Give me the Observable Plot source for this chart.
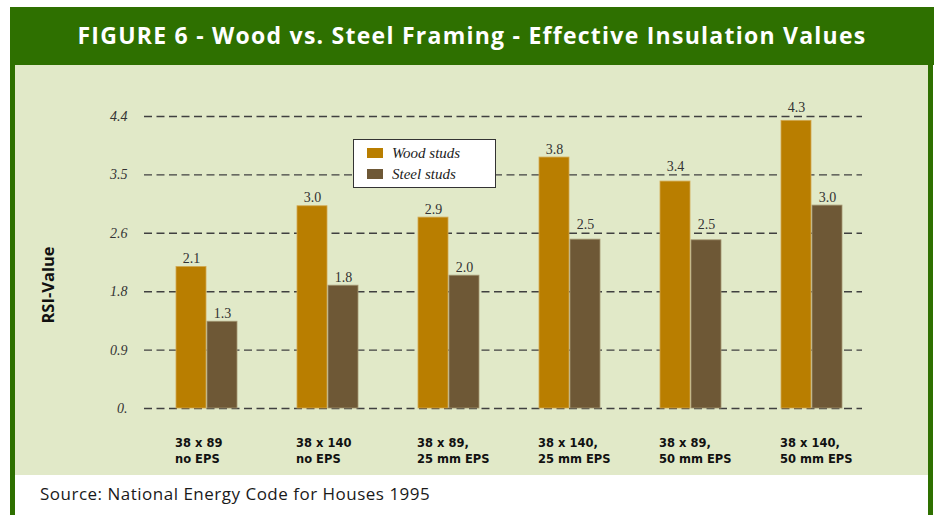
<!DOCTYPE html>
<html>
<head>
<meta charset="utf-8">
<script src="https://cdn.jsdelivr.net/npm/d3@7"></script>
<script src="https://cdn.jsdelivr.net/npm/@observablehq/plot@0.6"></script>
<style>
  html, body { margin: 0; padding: 0; background: #fff; }
  #page { position: relative; width: 938px; height: 515px; background: #fff; overflow: hidden; }
  #header { position: absolute; left: 10px; top: 7px; width: 924px; height: 55px; padding-bottom: 3px; background: #2e7000;
    color: #fff; font: 700 23px "Open Sans", sans-serif; letter-spacing: 1.25px;
    display: flex; align-items: center; justify-content: center; }
  .strip { position: absolute; top: 65px; height: 450px; background: #2e7000; }
  #panel { position: absolute; left: 15px; top: 65px; width: 913px; height: 410px; background: #e1e9c8; }
  #chart { position: absolute; left: 0; top: 65px; }
  #ylabel { position: absolute; left: 47px; top: 285px; transform: translate(-50%, -50%) rotate(-90deg);
    font: 700 16.5px "Open Sans", sans-serif; color: #111; white-space: nowrap; }
  #legend { position: absolute; left: 353px; top: 139px; width: 141px; height: 47px; background: #fff;
    border: 1.5px solid #333; box-sizing: content-box; }
  .item { position: absolute; left: 13px; font: italic 15px "Liberation Serif", serif; color: #222;
    display: flex; align-items: center; height: 16px; }
  .sw { width: 16px; height: 10px; margin-right: 9px; }
  #source { position: absolute; left: 40px; top: 482px; font: 17px "Open Sans", sans-serif; letter-spacing: 0.5px; color: #1a1a1a; }
</style>
</head>
<body>
<div id="page">
  <div id="header"></div>
  <div class="strip" style="left:10px;width:5px"></div>
  <div class="strip" style="left:928px;width:5px"></div>
  <div id="panel"></div>
  <div id="chart"></div>
  <div id="ylabel"></div>
  <div id="legend"></div>
  <div id="source"></div>
</div>
<script>
const title = "FIGURE 6 - Wood vs. Steel Framing - Effective Insulation Values";
const source = "Source: National Energy Code for Houses 1995";
const yLabel = "RSI-Value";
const categories = ["38 x 89\nno EPS", "38 x 140\nno EPS", "38 x 89,\n25 mm EPS", "38 x 140,\n25 mm EPS", "38 x 89,\n50 mm EPS", "38 x 140,\n50 mm EPS"];
const seriesNames = ["Wood studs", "Steel studs"];
const seriesColors = ["#b97e00", "#6e5836"];
const woodValues = [2.12, 3.03, 2.86, 3.76, 3.40, 4.31];
const steelValues = [1.30, 1.84, 1.99, 2.53, 2.52, 3.04];
const woodLabels = ["2.1", "3.0", "2.9", "3.8", "3.4", "4.3"];
const steelLabels = ["1.3", "1.8", "2.0", "2.5", "2.5", "3.0"];
const yTicks = [0, 0.875, 1.75, 2.625, 3.5, 4.375];
const yTickLabels = ["0.", "0.9", "1.8", "2.6", "3.5", "4.4"];

document.getElementById("header").textContent = title;
document.getElementById("source").textContent = source;
document.getElementById("ylabel").textContent = yLabel;

// a value label that would sit on a dashed gridline is lifted above that gridline
const labelAnchor = v => yTicks.find(t => t > v && t - v < 0.2) ?? v;
const rows = (values, labels) => categories.map((c, i) => ({category: c, value: values[i], label: labels[i], ly: labelAnchor(values[i])}));
const wood = rows(woodValues, woodLabels);
const steel = rows(steelValues, steelLabels);

const serif = "Liberation Serif, serif";

const chart = Plot.plot({
  width: 938,
  height: 410,
  marginTop: 51,
  marginBottom: 67,
  marginLeft: 144,
  marginRight: 76,
  style: {background: "transparent", overflow: "visible"},
  x: {type: "band", domain: categories, paddingInner: 0.498, paddingOuter: 0.2015, align: 0.61},
  y: {domain: [0, 4.375]},
  marks: [
    Plot.ruleY(yTicks, {stroke: "#404040", strokeWidth: 1.4, strokeDasharray: "8,4.5"}),
    Plot.barY(wood, {x: "category", y: "value", fill: seriesColors[0], insetRight: 31, stroke: "#d2a850", strokeWidth: 0.8}),
    Plot.barY(steel, {x: "category", y: "value", fill: seriesColors[1], insetLeft: 31, stroke: "#a39672", strokeWidth: 0.8}),
    Plot.text(wood, {x: "category", y: "ly", text: "label", dx: -15.5, dy: -8.5, fontFamily: serif, fontSize: 14, fill: "#333"}),
    Plot.text(steel, {x: "category", y: "ly", text: "label", dx: 15.5, dy: -8.5, fontFamily: serif, fontSize: 14, fill: "#333"}),
    Plot.axisY({ticks: yTicks, tickFormat: (d, i) => yTickLabels[i], tickSize: 0, tickPadding: 17,
      fontFamily: serif, fontStyle: "italic", fontSize: 14, fill: "#333", label: null}),
    Plot.axisX({tickSize: 0, tickPadding: 27, textAnchor: "start", dx: -32, lineHeight: 1.39,
      fontFamily: "DejaVu Sans, sans-serif", fontWeight: "bold", fontSize: 11.5, fill: "#111", label: null})
  ]
});
document.getElementById("chart").appendChild(chart);

const legend = document.getElementById("legend");
seriesNames.forEach((name, i) => {
  const item = document.createElement("div");
  item.className = "item";
  item.style.top = (5 + i * 21) + "px";
  const sw = document.createElement("span");
  sw.className = "sw";
  sw.style.background = seriesColors[i];
  item.appendChild(sw);
  item.appendChild(document.createTextNode(name));
  legend.appendChild(item);
});
</script>
</body>
</html>
